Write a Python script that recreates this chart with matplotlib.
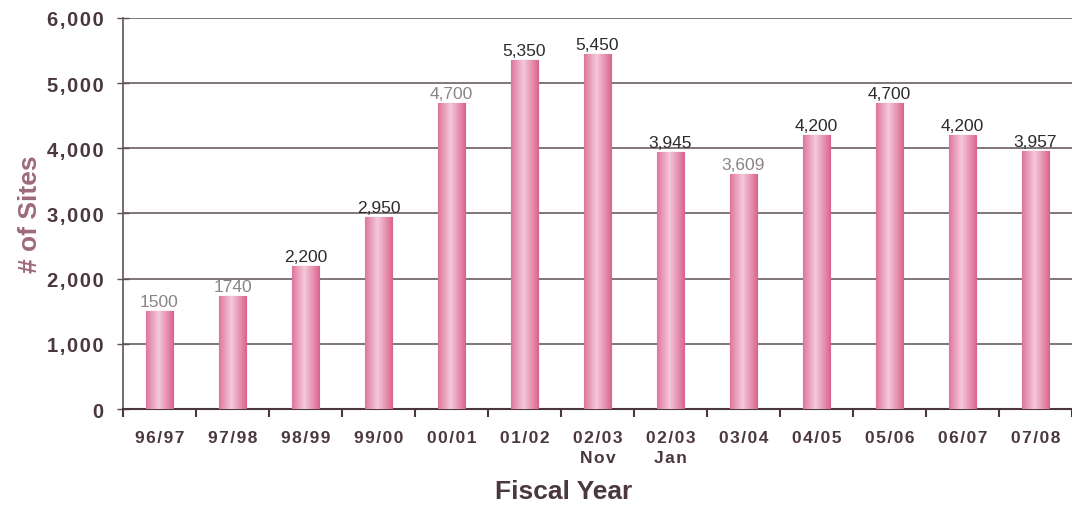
import matplotlib.pyplot as plt
import numpy as np
from matplotlib.colors import LinearSegmentedColormap

plt.rcParams['font.family'] = ['Liberation Sans', 'DejaVu Sans']

years = ["96/97", "97/98", "98/99", "99/00", "00/01", "01/02", "02/03\nNov",
         "02/03\nJan", "03/04", "04/05", "05/06", "06/07", "07/08"]
sites = [1500, 1740, 2200, 2950, 4700, 5350, 5450, 3945, 3609, 4200, 4700, 4200, 3957]
labels = ["1500", "1740", "2,200", "2,950", "4,700", "5,350", "5,450",
          "3,945", "3,609", "4,200", "4,700", "4,200", "3,957"]
faded = [True, True, False, False, True, False, False, False, True, False, False, False, False]

def spaced(s):
    # wide letter spacing like the scanned original
    return "\n".join("\u200a".join(line) for line in s.split("\n"))

fig = plt.figure(figsize=(10.72, 5.06), dpi=100)
ax = fig.add_axes([0.1147, 0.1897, 0.8853, 0.7728])

x = np.arange(len(years))
bars = ax.bar(x, sites, width=0.38, color="#e9a3bd", edgecolor="#d9587e",
              linewidth=0.8, zorder=3)

# cylinder-ish shading on each bar
grad = np.linspace(0, 1, 64)
shade = np.clip(1 - np.abs(grad - 0.45) * 1.6, 0, 1)[None, :]
cmap = LinearSegmentedColormap.from_list("pk", ["#d4567e", "#e690b0", "#f4c8da"])
for b in bars:
    x0, w, h = b.get_x(), b.get_width(), b.get_height()
    im = ax.imshow(shade, cmap=cmap, aspect="auto", extent=(x0, x0 + w, 0, h),
                   zorder=3.5, vmin=0, vmax=1)
    im.set_clip_path(b)

for xi, v, lab, f in zip(x, sites, labels, faded):
    ax.text(xi, v + 30, lab, ha="center", va="bottom", fontsize=12.5,
            color="#8a8488" if f else "#2e2a2c", zorder=5)

ax.set_xlim(-0.5, len(years) - 0.5)
ax.set_ylim(0, 6000)
ax.set_yticks(range(0, 6001, 1000))
ax.set_yticklabels([spaced(f"{v:,}") for v in range(0, 6001, 1000)], fontsize=14.5,
                   fontweight="bold", color="#4a383e")
ax.set_xticks(x)
ax.set_xticklabels([spaced(y) for y in years], fontsize=12.5, fontweight="bold",
                   color="#4a383e", linespacing=1.4)
ax.tick_params(axis="x", length=0, pad=15)
ax.set_xticks(np.arange(-0.5, len(years) - 0.4, 1), minor=True)
ax.tick_params(axis="x", which="minor", length=6, width=1.5, color="#4a383e",
               direction="out")
ax.tick_params(axis="y", length=8, width=1, color="#5e5056", pad=10,
               direction="inout")

ax.grid(axis="y", color="#6a5e64", linewidth=1.2, zorder=1)
for s in ["top", "right"]:
    ax.spines[s].set_visible(False)
ax.spines["left"].set_color("#5e5056")
ax.spines["left"].set_linewidth(1.2)
ax.spines["bottom"].set_color("#4a383e")
ax.spines["bottom"].set_linewidth(1.5)

ax.set_ylabel("# of Sites", fontsize=19, fontweight="bold", color="#9e6a7a")
ax.yaxis.set_label_coords(-0.085, 0.5)
ax.set_xlabel("Fiscal Year", fontsize=19, fontweight="bold", color="#4a383e")
ax.xaxis.set_label_coords(0.464, -0.18)

fig.savefig("out.png", dpi=100)
